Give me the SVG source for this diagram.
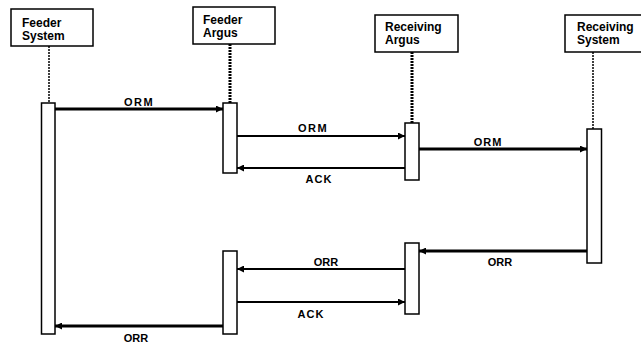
<svg xmlns="http://www.w3.org/2000/svg" width="641" height="345" viewBox="0 0 641 345">
<style>
.box{fill:#fff;stroke:#000;stroke-width:1.5}
.act{fill:#fff;stroke:#000;stroke-width:1.5}
.ht{font-family:"Liberation Sans",Arial,sans-serif;font-weight:bold;font-size:12px;fill:#000}
.lb{font-family:"Liberation Sans",Arial,sans-serif;font-weight:bold;font-size:11px;fill:#000;text-anchor:middle}
.life{stroke:#000;stroke-width:1.5;stroke-dasharray:2,1;fill:none}
.lifeT{stroke:#000;stroke-width:3;stroke-dasharray:2,1;fill:none}
.thick{stroke:#000;stroke-width:3;fill:none}
.thin{stroke:#000;stroke-width:2;fill:none}
</style>
<defs>
<marker id="ah" viewBox="0 0 10 10" refX="10" refY="5" markerWidth="8" markerHeight="7" markerUnits="userSpaceOnUse" orient="auto">
<path d="M0,0 L10,5 L0,10 Z" fill="#000"/>
</marker>
</defs>
<rect width="641" height="345" fill="#fff"/>
<g id="feeder-system">
<rect class="box" x="11" y="9" width="82" height="37"/>
<text class="ht" x="22" y="27">Feeder</text>
<text class="ht" x="22" y="40">System</text>
<line class="life" x1="49" y1="46" x2="49" y2="103"/>
<rect class="act" x="41.5" y="103" width="13.5" height="231"/>
</g>
<g id="feeder-argus">
<rect class="box" x="193" y="7" width="82" height="37"/>
<text class="ht" x="203" y="24">Feeder</text>
<text class="ht" x="203" y="37">Argus</text>
<line class="lifeT" x1="230" y1="44" x2="230" y2="103"/>
<rect class="act" x="223" y="103" width="14" height="70"/>
<rect class="act" x="223" y="251" width="14" height="83"/>
</g>
<g id="receiving-argus">
<rect class="box" x="375" y="15" width="83" height="37"/>
<text class="ht" x="385" y="31">Receiving</text>
<text class="ht" x="385" y="44">Argus</text>
<line class="lifeT" x1="412" y1="52" x2="412" y2="123"/>
<rect class="act" x="405" y="123" width="14" height="57"/>
<rect class="act" x="405" y="243" width="14" height="71"/>
</g>
<g id="receiving-system">
<rect class="box" x="565" y="15" width="82" height="37"/>
<text class="ht" x="577" y="30.5">Receiving</text>
<text class="ht" x="577" y="43.5">System</text>
<line class="life" x1="593" y1="52" x2="593" y2="129"/>
<rect class="act" x="587" y="129" width="14.5" height="134"/>
</g>
<g id="connectors">
<line class="thick" x1="55" y1="109" x2="223" y2="109" marker-end="url(#ah)"/>
<text class="lb" x="139" y="106" letter-spacing="1.5">ORM</text>
<line class="thin" x1="237" y1="136" x2="405" y2="136" marker-end="url(#ah)"/>
<text class="lb" x="313" y="132" letter-spacing="1.5">ORM</text>
<line class="thin" x1="405" y1="168" x2="237" y2="168" marker-end="url(#ah)"/>
<text class="lb" x="319" y="183" letter-spacing="1">ACK</text>
<line class="thick" x1="419" y1="149" x2="587" y2="149" marker-end="url(#ah)"/>
<text class="lb" x="488" y="146" letter-spacing="1">ORM</text>
<line class="thick" x1="587" y1="251" x2="419" y2="251" marker-end="url(#ah)"/>
<text class="lb" x="500" y="266">ORR</text>
<line class="thin" x1="405" y1="269" x2="237" y2="269" marker-end="url(#ah)"/>
<text class="lb" x="326" y="266">ORR</text>
<line class="thin" x1="237" y1="302" x2="405" y2="302" marker-end="url(#ah)"/>
<text class="lb" x="311" y="318" letter-spacing="1">ACK</text>
<line class="thick" x1="223" y1="326" x2="55" y2="326" marker-end="url(#ah)"/>
<text class="lb" x="136" y="342">ORR</text>
</g>
</svg>
